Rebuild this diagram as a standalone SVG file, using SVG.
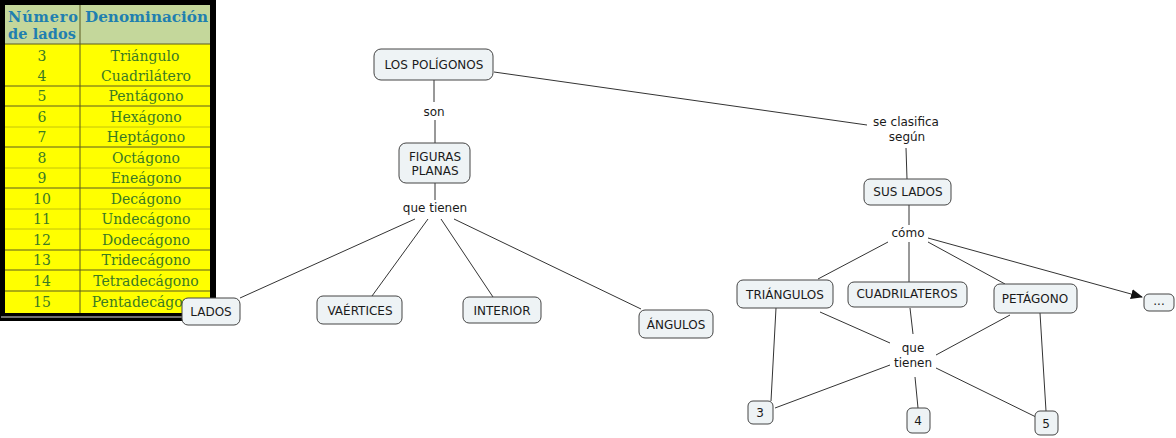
<svg xmlns="http://www.w3.org/2000/svg" width="1176" height="438" viewBox="0 0 1176 438">
<style>
.n rect{fill:#eef3f5;stroke:#444;stroke-width:1}
.n text,.lbl{font-family:"DejaVu Sans",Verdana,sans-serif;font-size:12px;fill:#1a1a1a;text-anchor:middle}
.c line,.c path{stroke:#333;stroke-width:1;fill:none}
.th{font-family:"DejaVu Serif","Liberation Serif",serif;font-weight:bold;font-size:14.5px;fill:#1f7fb0}
.td{font-family:"DejaVu Serif","Liberation Serif",serif;font-size:14px;fill:#3a7a24;text-anchor:middle}
.rl{stroke:#5a5a20;stroke-width:1}
</style>
<defs>
<marker id="arr" markerWidth="12" markerHeight="10" refX="11" refY="5" orient="auto" markerUnits="userSpaceOnUse">
<path d="M0,0 L12,5 L0,10 Z" fill="#111"/>
</marker>
</defs>
<rect width="1176" height="438" fill="#fff"/>

<g id="tabla">
<rect x="0" y="0" width="216" height="321" fill="#000"/>
<rect x="5" y="5" width="205" height="39" fill="#c4d79b"/>
<rect x="5" y="44" width="205" height="269" fill="#ffff00"/>
<line x1="1" y1="317" x2="215" y2="317" stroke="#ddd" stroke-width="1"/>
<line class="rl" x1="5" y1="44" x2="210" y2="44"/>
<line class="rl" x1="80" y1="5" x2="80" y2="313"/>
<g class="rl">
<line x1="5" y1="86" x2="210" y2="86"/>
<line x1="5" y1="106" x2="210" y2="106"/>
<line x1="5" y1="127" x2="210" y2="127" opacity="0.35"/>
<line x1="5" y1="147" x2="210" y2="147"/>
<line x1="5" y1="168" x2="210" y2="168" opacity="0.35"/>
<line x1="5" y1="188" x2="210" y2="188"/>
<line x1="5" y1="209" x2="210" y2="209" opacity="0.35"/>
<line x1="5" y1="229" x2="210" y2="229" opacity="0.35"/>
<line x1="5" y1="250" x2="210" y2="250"/>
<line x1="5" y1="270" x2="210" y2="270"/>
<line x1="5" y1="291" x2="210" y2="291"/>
</g>
<text class="th" x="8" y="22" textLength="70" lengthAdjust="spacing">Número</text>
<text class="th" x="8" y="39" textLength="68" lengthAdjust="spacing">de lados</text>
<text class="th" x="85" y="22" textLength="123" lengthAdjust="spacingAndGlyphs">Denominación</text>
<text class="td" x="42" y="61">3</text><text class="td" x="145" y="61">Triángulo</text>
<text class="td" x="42" y="81">4</text><text class="td" x="146" y="81">Cuadrilátero</text>
<text class="td" x="42" y="101">5</text><text class="td" x="146" y="101">Pentágono</text>
<text class="td" x="42" y="122">6</text><text class="td" x="146" y="122">Hexágono</text>
<text class="td" x="42" y="142">7</text><text class="td" x="146" y="142">Heptágono</text>
<text class="td" x="42" y="163">8</text><text class="td" x="146" y="163">Octágono</text>
<text class="td" x="42" y="183">9</text><text class="td" x="146" y="183">Eneágono</text>
<text class="td" x="42" y="204">10</text><text class="td" x="146" y="204">Decágono</text>
<text class="td" x="42" y="224">11</text><text class="td" x="146" y="224">Undecágono</text>
<text class="td" x="42" y="245">12</text><text class="td" x="146" y="245">Dodecágono</text>
<text class="td" x="42" y="265">13</text><text class="td" x="146" y="265">Tridecágono</text>
<text class="td" x="42" y="286">14</text><text class="td" x="146" y="286">Tetradecágono</text>
<text class="td" x="42" y="307">15</text><text class="td" x="146" y="307">Pentadecágono</text>
</g>

<g class="c" id="conectores">
<line x1="434" y1="80" x2="434" y2="102"/>
<line x1="435" y1="120" x2="435" y2="143"/>
<line x1="435" y1="183" x2="435" y2="200"/>
<line x1="415" y1="219" x2="240" y2="298"/>
<line x1="428" y1="219" x2="372" y2="296"/>
<line x1="441" y1="219" x2="493" y2="297"/>
<line x1="454" y1="219" x2="641" y2="309"/>
<line x1="494" y1="72" x2="867" y2="125"/>
<line x1="906" y1="148" x2="907" y2="179"/>
<line x1="909" y1="205" x2="909" y2="225"/>
<line x1="888" y1="242" x2="818" y2="279"/>
<line x1="909" y1="242" x2="909" y2="282"/>
<line x1="928" y1="242" x2="1005" y2="284"/>
<line x1="928" y1="238" x2="1142" y2="297" marker-end="url(#arr)"/>
<line x1="776" y1="308" x2="771" y2="401"/>
<line x1="820" y1="312" x2="890" y2="343"/>
<line x1="910" y1="308" x2="913" y2="334"/>
<line x1="915" y1="377" x2="918" y2="408"/>
<line x1="1010" y1="315" x2="936" y2="355"/>
<line x1="1040" y1="313" x2="1046" y2="411"/>
<line x1="890" y1="365" x2="775" y2="408"/>
<line x1="936" y1="368" x2="1036" y2="417"/>
</g>

<g id="etiquetas">
<text class="lbl" x="434" y="116">son</text>
<text class="lbl" x="435" y="212">que tienen</text>
<text class="lbl" x="906" y="126">se clasifica</text>
<text class="lbl" x="907" y="141">según</text>
<text class="lbl" x="908" y="237">cómo</text>
<text class="lbl" x="913" y="352">que</text>
<text class="lbl" x="913" y="367">tienen</text>
</g>

<g class="n" id="n-poligonos"><rect x="374" y="49" width="119" height="31" rx="7"/><text x="434" y="69">LOS POLÍGONOS</text></g>
<g class="n" id="n-figuras"><rect x="399" y="143" width="71" height="40" rx="7"/><text x="435" y="161">FIGURAS</text><text x="435" y="175">PLANAS</text></g>
<g class="n" id="n-lados"><rect x="182" y="298" width="58" height="27" rx="6"/><text x="211" y="316">LADOS</text></g>
<g class="n" id="n-vaertices"><rect x="317" y="296" width="85" height="28" rx="6"/><text x="360" y="315">VAÉRTICES</text></g>
<g class="n" id="n-interior"><rect x="463" y="297" width="78" height="26" rx="6"/><text x="502" y="315">INTERIOR</text></g>
<g class="n" id="n-angulos"><rect x="639" y="310" width="74" height="28" rx="6"/><text x="676" y="329">ÁNGULOS</text></g>
<g class="n" id="n-suslados"><rect x="864" y="179" width="87" height="26" rx="6"/><text x="908" y="196">SUS LADOS</text></g>
<g class="n" id="n-triangulos"><rect x="737" y="280" width="96" height="28" rx="6"/><text x="785" y="299">TRIÁNGULOS</text></g>
<g class="n" id="n-cuadrilateros"><rect x="848" y="282" width="119" height="25" rx="6"/><text x="907" y="298">CUADRILATEROS</text></g>
<g class="n" id="n-petagono"><rect x="994" y="284" width="83" height="29" rx="6"/><text x="1035" y="303">PETÁGONO</text></g>
<g class="n" id="n-mas"><rect x="1144" y="294" width="30" height="17" rx="5"/><text x="1159" y="305">...</text></g>
<g class="n" id="n-3"><rect x="748" y="401" width="25" height="23" rx="5"/><text x="760" y="417">3</text></g>
<g class="n" id="n-4"><rect x="907" y="408" width="23" height="25" rx="5"/><text x="918" y="425">4</text></g>
<g class="n" id="n-5"><rect x="1035" y="411" width="23" height="24" rx="5"/><text x="1046" y="428">5</text></g>
</svg>
